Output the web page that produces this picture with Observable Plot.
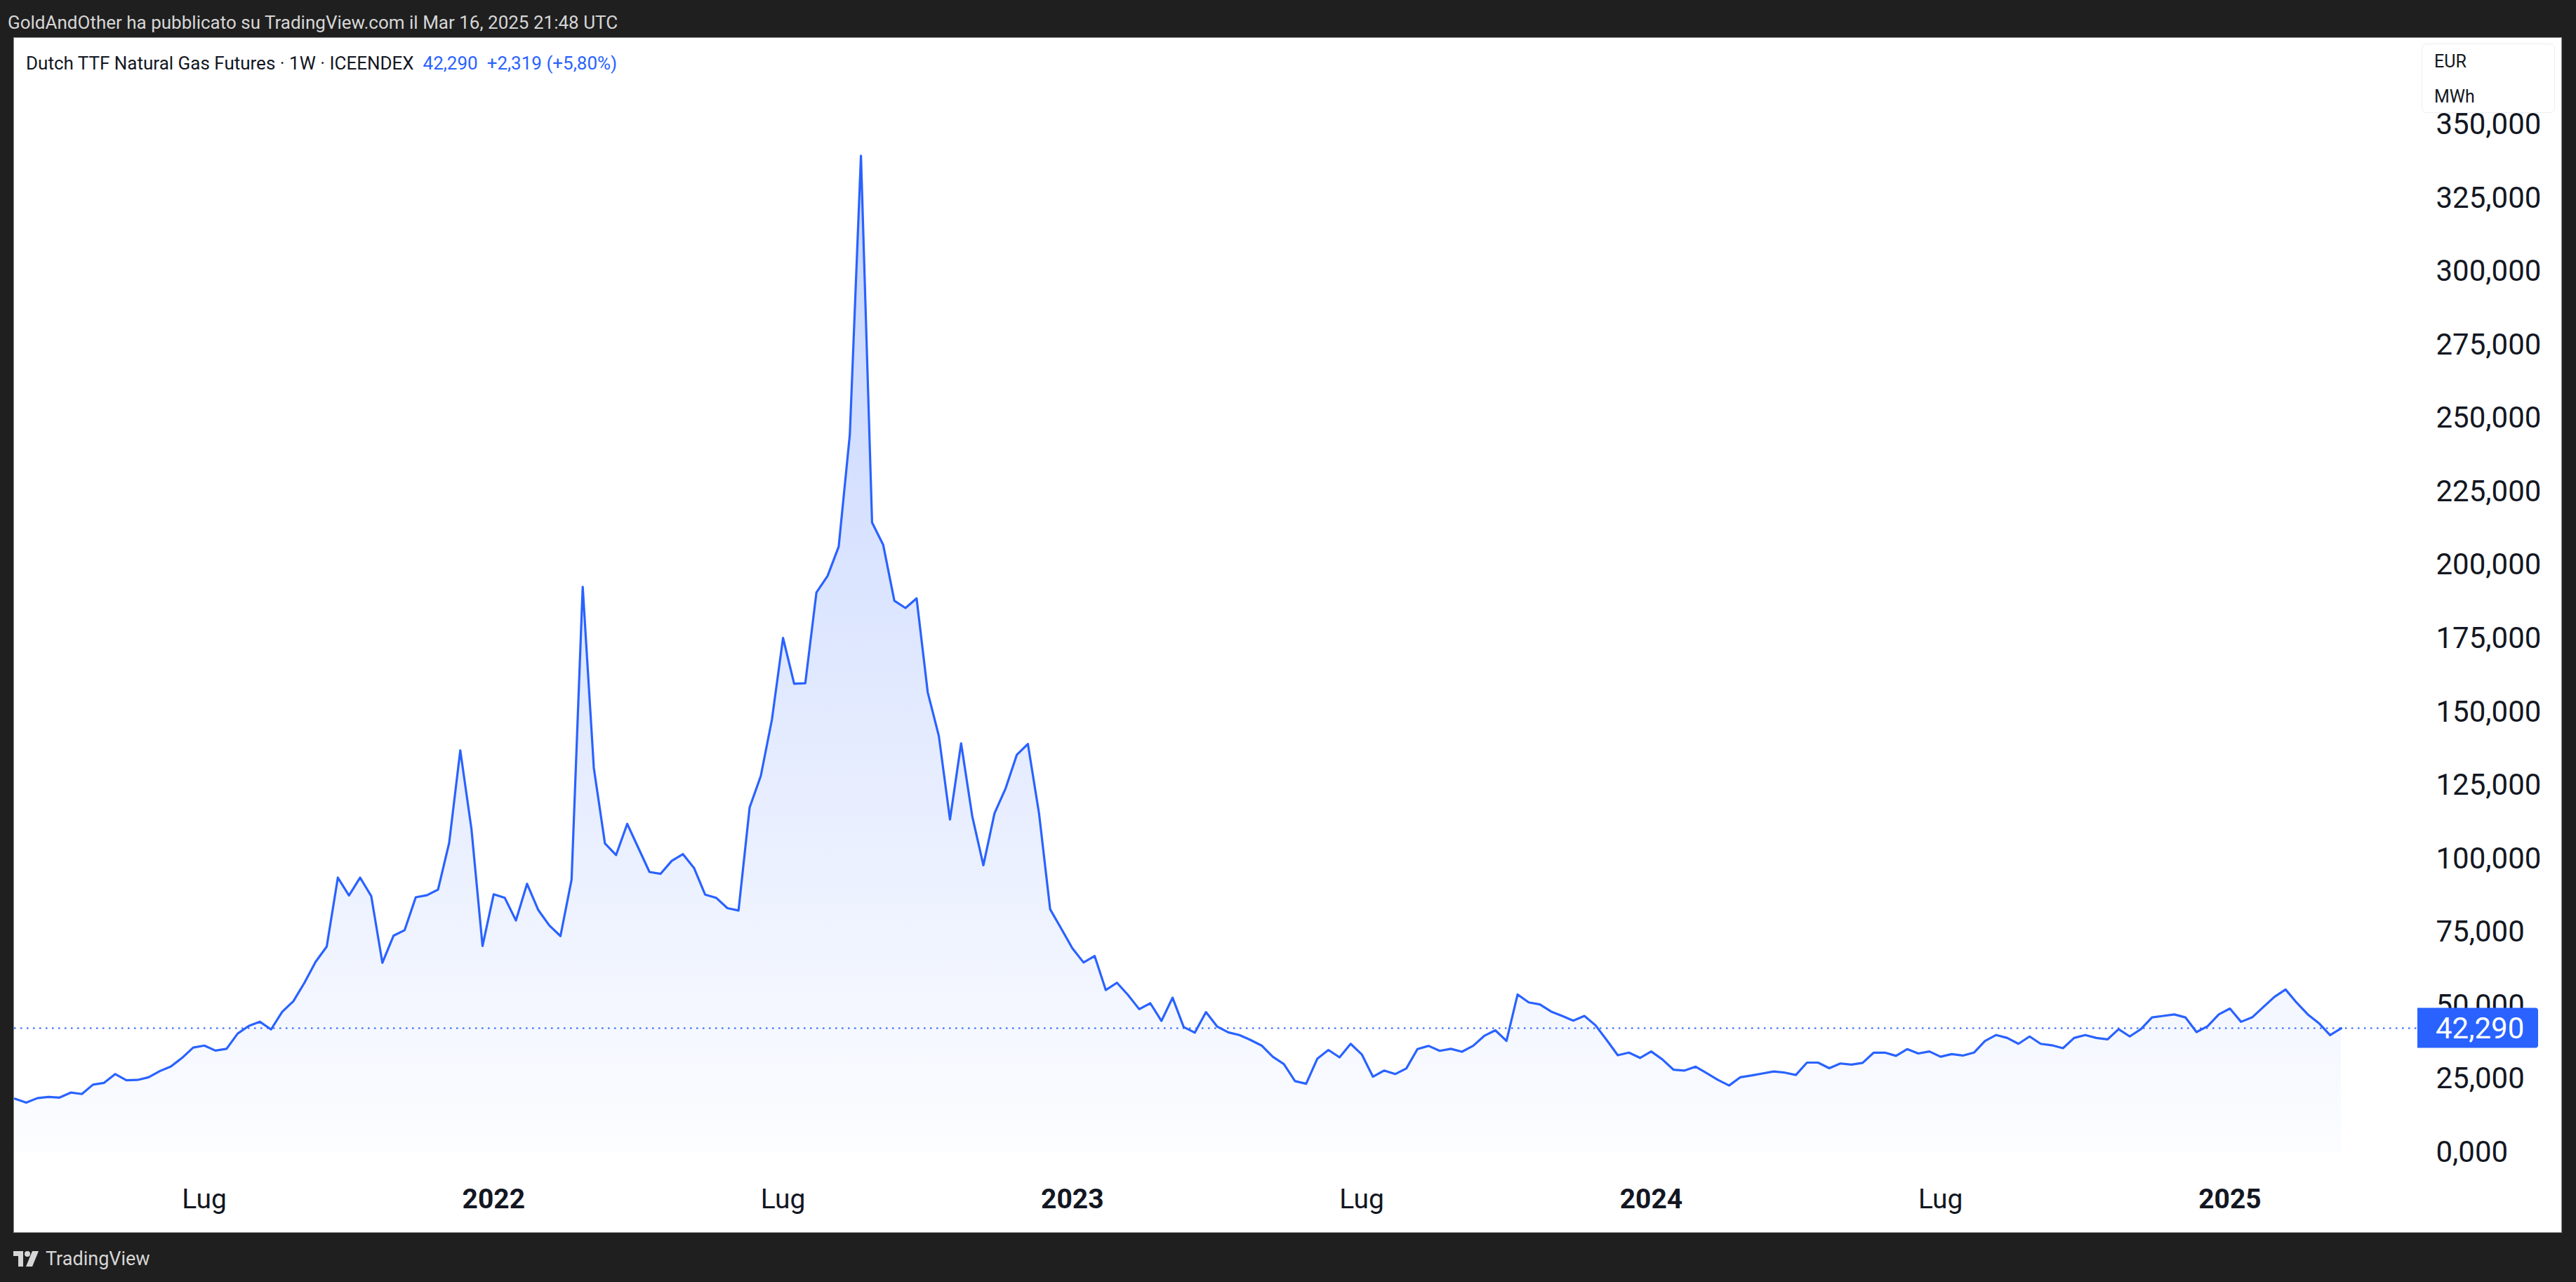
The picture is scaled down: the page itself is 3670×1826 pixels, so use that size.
<!DOCTYPE html>
<html><head><meta charset="utf-8">
<script src="https://cdn.jsdelivr.net/npm/d3@7"></script>
<script src="https://cdn.jsdelivr.net/npm/@observablehq/plot@0.6"></script>
<style>
html,body{margin:0;padding:0;}
body{width:3670px;height:1826px;background:#1f1f1f;position:relative;overflow:hidden;font-family:Roboto,"Noto Sans",sans-serif;}
#pub{position:absolute;left:11px;top:17px;color:#d6d6d6;font-size:26px;white-space:nowrap;line-height:30px;}
#panel{position:absolute;left:19px;top:53px;width:3629px;height:1701px;background:#ffffff;border:1px solid #8a8a8a;}
#chart{position:absolute;left:20px;top:54px;}
#legend{position:absolute;left:37px;top:75px;font-size:26px;line-height:30px;color:#131722;white-space:nowrap;}
#legend .b{color:#2962ff;}
#unit{position:absolute;left:3450px;top:62px;width:190px;height:99px;background:#fff;border:1px solid #eceef2;border-radius:7px;box-sizing:border-box;font-size:25px;color:#131722;}
#unit div{position:absolute;left:17px;}
#foot{position:absolute;left:19px;top:1778px;color:#d6d6d6;font-size:27px;line-height:30px;white-space:nowrap;display:flex;align-items:center;gap:10px;}
</style></head>
<body>
<div id="pub">GoldAndOther ha pubblicato su TradingView.com il Mar 16, 2025 21:48 UTC</div>
<div id="panel"></div>
<div id="chart"></div>
<div id="legend">Dutch TTF Natural Gas Futures · 1W · ICEENDEX&nbsp;&nbsp;<span class="b">42,290</span>&nbsp;&nbsp;<span class="b">+2,319 (+5,80%)</span></div>
<div id="unit"><div style="top:10px">EUR</div><div style="top:60px">MWh</div></div>
<div id="foot"><svg width="36" height="22" viewBox="0 0 36 22"><path d="M0 0h14v22h-7V7H0z" fill="#d6d6d6"/><circle cx="20" cy="4" r="4" fill="#d6d6d6"/><path d="M27 0h9l-9 22h-9z" fill="#d6d6d6"/></svg><span>TradingView</span></div>
<script>
// Weekly closes, EUR/MWh, weeks starting 2021-03-08 ... 2025-03-10
const firstWeek = "2021-03-08";
const closes = [
  18.3, 17.0, 18.5, 18.9, 18.7, 20.4, 19.9, 23.1, 23.7, 26.7,
  24.6, 24.7, 25.6, 27.7, 29.3, 32.2, 35.7, 36.4, 34.7, 35.3,
  40.5, 43.1, 44.5, 41.9, 47.9, 51.5, 57.8, 64.9, 70.1, 93.6,
  87.5, 93.6, 87.3, 64.6, 73.8, 75.7, 86.9, 87.6, 89.5, 105.4,
  136.9, 110.3, 70.3, 87.9, 86.7, 79.0, 91.5, 82.6, 77.3, 73.7,
  92.9, 192.6, 130.9, 105.2, 101.3, 111.9, 103.7, 95.5, 94.9, 99.3,
  101.6, 96.9, 87.8, 86.7, 83.2, 82.4, 117.5, 128.2, 147.4, 175.2,
  159.6, 159.8, 190.7, 196.3, 206.3, 244.4, 339.4, 214.5, 206.9, 187.9,
  185.4, 188.7, 156.7, 141.8, 113.4, 139.3, 114.5, 97.8, 115.5, 124.0,
  135.4, 139.1, 115.5, 82.8, 76.2, 69.5, 64.7, 66.9, 55.3, 57.8,
  53.6, 48.8, 50.8, 44.8, 52.7, 42.7, 40.8, 47.8, 42.9, 40.9,
  40.0, 38.3, 36.4, 32.6, 30.1, 24.3, 23.4, 31.9, 34.9, 32.4,
  37.0, 33.4, 25.8, 27.9, 26.7, 28.6, 35.2, 36.3, 34.6, 35.3,
  34.3, 36.3, 39.7, 41.6, 38.0, 53.8, 51.1, 50.4, 48.0, 46.5,
  44.9, 46.5, 43.3, 38.3, 33.1, 34.0, 32.2, 34.4, 31.7, 28.2,
  27.9, 29.2, 27.0, 24.7, 22.8, 25.6, 26.2, 26.9, 27.6, 27.2,
  26.4, 30.6, 30.6, 28.7, 30.3, 29.9, 30.5, 34.0, 34.0, 32.9,
  35.2, 33.7, 34.4, 32.6, 33.5, 33.0, 34.0, 38.0, 40.0, 39.0,
  37.0, 39.5, 37.0, 36.5, 35.5, 39.0, 40.0, 39.0, 38.5, 42.0,
  39.5, 42.0, 46.0, 46.5, 47.0, 46.0, 41.0, 43.0, 47.0, 49.0,
  44.5, 46.0, 49.5, 53.0, 55.5, 51.0, 47.0, 44.0, 39.97, 42.29
];
const lastClose = 42.29;
const yTicks = [0, 25, 50, 75, 100, 125, 150, 175, 200, 225, 250, 275, 300, 325, 350];
const tickDates = ["2021-07-05", "2022-01-03", "2022-07-04", "2023-01-02", "2023-07-03", "2024-01-01", "2024-07-01", "2024-12-30"];
const tickLabels = ["Lug", "2022", "Lug", "2023", "Lug", "2024", "Lug", "2025"];

const t0 = new Date(firstWeek + "T00:00:00Z");
const dates = closes.map((_, i) => d3.utcWeek.offset(t0, i));
const data = dates.map((d, i) => ({date: d, close: closes[i]}));
const ticks = tickDates.map((d, i) => ({date: new Date(d + "T00:00:00Z"), label: tickLabels[i]}));
const labelOf = new Map(ticks.map(t => [+t.date, t.label]));
const monthTicks = ticks.filter(t => !/^\d{4}$/.test(t.label)).map(t => t.date);
const yearTicks = ticks.filter(t => /^\d{4}$/.test(t.label)).map(t => t.date);
const it = d3.formatLocale({decimal: ",", thousands: ".", grouping: [3], currency: ["", ""]});
const fmt3 = it.format(".3f");

const W = 3629, H = 1701;
const chart = Plot.plot({
  width: W, height: H,
  marginLeft: 1, marginRight: 314, marginTop: 123, marginBottom: 114,
  style: {fontFamily: "Roboto, sans-serif", background: "transparent", overflow: "visible", color: "#131722"},
  x: {type: "utc", domain: [dates[0], dates[dates.length - 1]], label: null},
  y: {domain: [0, 350], label: null},
  marks: [
    Plot.areaY(data, {x: "date", y: "close", fill: "url(#ttfFill)"}),
    Plot.ruleY([lastClose], {stroke: "#2962ff", strokeWidth: 2, strokeDasharray: "2.5 6.5", insetLeft: -1, insetRight: -109}),
    Plot.lineY(data, {x: "date", y: "close", stroke: "#2962ff", strokeWidth: 3.2, strokeLinejoin: "round"}),
    Plot.axisY(yTicks, {anchor: "right", label: null, tickSize: 0, tickPadding: 135, tickFormat: fmt3, fontSize: 42, fill: "#131722", textAnchor: "start"}),
    Plot.axisX(monthTicks, {anchor: "bottom", label: null, tickSize: 0, tickPadding: 52, tickFormat: d => labelOf.get(+d), fontSize: 39, fill: "#131722"}),
    Plot.axisX(yearTicks, {anchor: "bottom", label: null, tickSize: 0, tickPadding: 52, tickFormat: d => labelOf.get(+d), fontSize: 39, fontWeight: "bold", fill: "#131722"})
  ]
});
document.getElementById("chart").appendChild(chart);

const svg = d3.select(chart);
const defs = svg.insert("defs", ":first-child");
const g = defs.append("linearGradient").attr("id", "ttfFill").attr("x1", 0).attr("y1", 0).attr("x2", 0).attr("y2", 1);
g.append("stop").attr("offset", "0%").attr("stop-color", "#2962ff").attr("stop-opacity", 0.28);
g.append("stop").attr("offset", "100%").attr("stop-color", "#2962ff").attr("stop-opacity", 0.015);

// last-price badge on the price scale
const yPix = chart.scale("y").apply(lastClose);
const xEnd = W - 314 + 109;
const badge = svg.append("g");
badge.append("path")
  .attr("d", `M${xEnd},${yPix - 28.5}h168a4,4 0 0 1 4,4v49a4,4 0 0 1 -4,4h-168z`)
  .attr("fill", "#2962ff");
badge.append("text").attr("x", xEnd + 26).attr("y", yPix).attr("dy", "0.36em")
  .attr("text-anchor", "start")
  .attr("fill", "#fff").attr("font-size", 42).attr("font-family", "Roboto, sans-serif")
  .text(fmt3(lastClose));
</script>
</body></html>
